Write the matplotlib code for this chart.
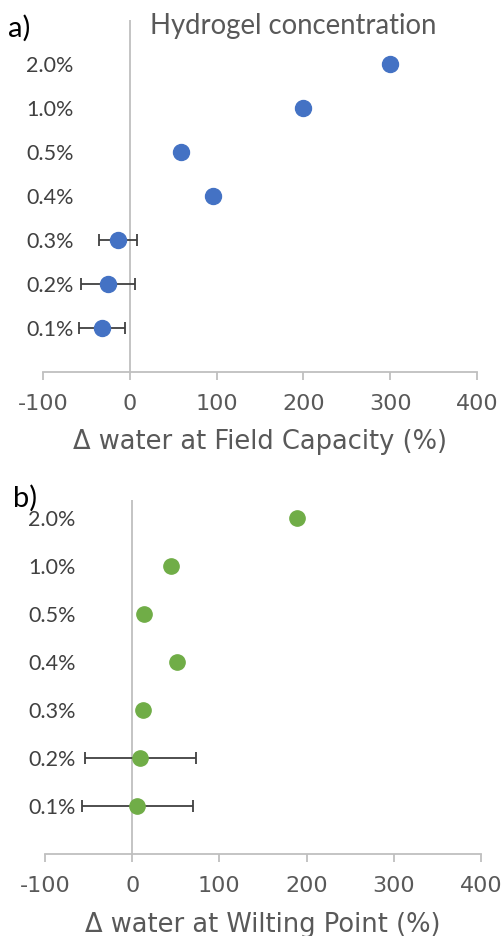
import numpy as np
import matplotlib
matplotlib.use('Agg')
import matplotlib.pyplot as plt

# concentrations, bottom to top
conc = ['0.1%', '0.2%', '0.3%', '0.4%', '0.5%', '1.0%', '2.0%']
pos = np.arange(1, len(conc) + 1)

# a) change of water at field capacity (%)
fc_mean = [-32, -25, -14, 96, 59, 200, 300]
fc_err = [27, 31, 22, 0, 0, 0, 0]

# b) change of water at wilting point (%)
wp_mean = [6, 9.5, 12, 51, 14, 44, 189]
wp_err = [64, 64, 0, 0, 0, 0, 0]

xticks = [-100, 0, 100, 200, 300, 400]

GRID = '#bfbfbf'
TXT = '#595959'

fig = plt.figure(figsize=(5.02, 9.36), dpi=100)

def panel(rect, mean, err, color, ytop, xlabel, msize):
    ax = fig.add_axes(rect)
    ax.axvline(0, color=GRID, lw=1.3, zorder=1)
    ax.errorbar(mean, pos, xerr=err, fmt='none', ecolor='#404040',
                elinewidth=1.3, capsize=4.5, capthick=1.3, zorder=2)
    ax.plot(mean, pos, 'o', color=color, ms=msize, mec=color, zorder=3)
    ax.set_xlim(-100, 400)
    ax.set_ylim(0, ytop)
    ax.set_xticks(xticks)
    ax.set_xticklabels([str(t) for t in xticks], fontsize=16, color=TXT,
                       family='DejaVu Sans')
    ax.set_yticks(pos)
    ax.set_yticklabels(conc, fontsize=15.5, color='#404040', family='Lato')
    ax.tick_params(axis='y', length=0, pad=-22)
    ax.tick_params(axis='x', length=6, width=1.3, color=GRID, direction='out', pad=10)
    for s in ['top', 'right', 'left']:
        ax.spines[s].set_visible(False)
    ax.spines['bottom'].set_color(GRID)
    ax.spines['bottom'].set_linewidth(1.3)
    ax.set_xlabel(xlabel, fontsize=18.5, color=TXT, family='DejaVu Sans', labelpad=11)
    return ax

ax1 = panel([0.0857, 0.6026, 0.8645, 0.376], fc_mean, fc_err, '#4472C4', 8,
            '\u0394 water at Field Capacity (%)', 11.5)
ax2 = panel([0.0896, 0.0876, 0.8685, 0.378], wp_mean, wp_err, '#70AD47', 7.375,
            '\u0394 water at Wilting Point (%)', 11)

fig.text(150 / 502, 1 - 26 / 936, 'Hydrogel concentration', fontsize=19.8,
         color=TXT, family='Lato', va='center', ha='left')
fig.text(8 / 502, 1 - 28 / 936, 'a)', fontsize=21, color='black',
         family='Lato', va='center', ha='left')
fig.text(13 / 502, 1 - 498 / 936, 'b)', fontsize=21, color='black',
         family='Lato', va='center', ha='left')

fig.savefig('out.png', dpi=100)
